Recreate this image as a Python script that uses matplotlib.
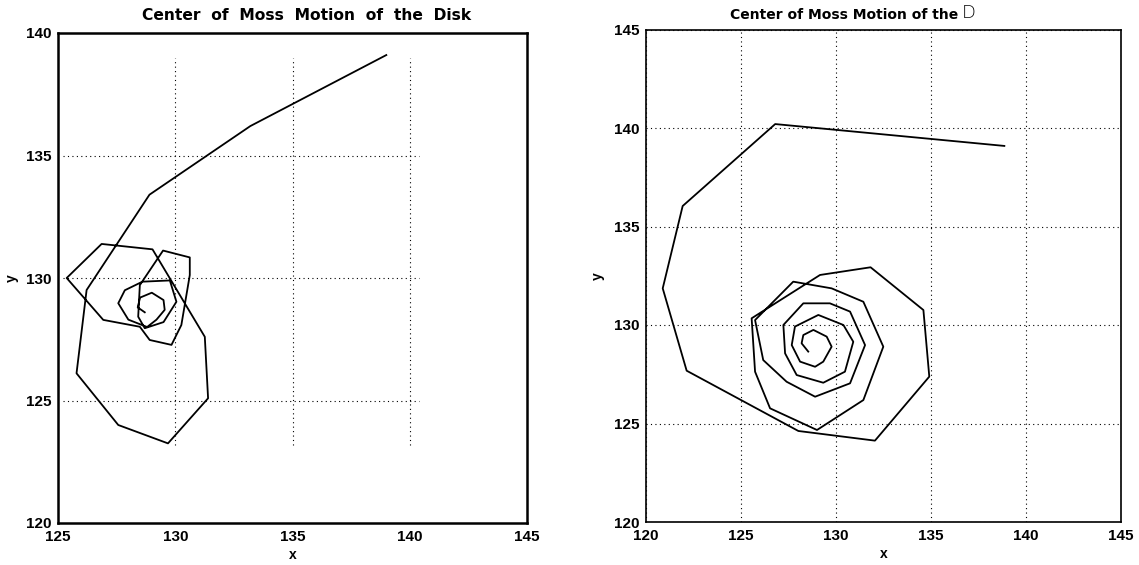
import matplotlib
matplotlib.use("Agg")
import matplotlib.pyplot as plt

# ---- data ----
left_x = [139.0, 133.2, 128.9, 126.22, 125.79, 127.57, 129.69, 131.4, 131.26, 129.03,
          126.86, 125.37, 126.93, 128.49, 128.91, 129.84, 130.26, 130.62, 130.62, 129.48,
          128.49, 128.42, 128.7, 129.5, 130.05, 129.77, 128.6, 127.85, 127.57, 128.0,
          128.8, 129.2, 129.55, 129.5, 129.0, 128.5, 128.4, 128.7]
left_y = [139.1, 136.2, 133.4, 129.51, 126.11, 124.0, 123.25, 125.09, 127.6, 131.17,
          131.39, 130.0, 128.29, 128.01, 127.47, 127.27, 128.08, 130.12, 130.84, 131.12,
          129.71, 128.42, 127.95, 128.2, 129.03, 129.9, 129.85, 129.5, 128.97, 128.3,
          128.0, 128.3, 128.7, 129.1, 129.4, 129.2, 128.8, 128.6]

right_x = [138.86, 126.8, 121.93, 120.88, 122.14, 128.02, 132.05, 134.91, 134.6, 131.82,
           129.16, 125.56, 125.74, 126.53, 129.0, 131.44, 132.49, 131.44, 129.77, 127.75,
           125.74, 126.17, 127.4, 128.9, 130.74, 131.53, 130.74, 129.68, 128.28, 127.23,
           127.32, 127.93, 129.33, 130.47, 130.91, 130.39, 129.07, 127.84, 127.67, 128.11,
           128.9, 129.33, 129.77, 129.51, 128.81, 128.28, 128.19, 128.54]
right_y = [139.09, 140.2, 136.04, 131.86, 127.68, 124.62, 124.13, 127.38, 130.76, 132.93,
           132.54, 130.34, 127.63, 125.77, 124.67, 126.19, 128.9, 131.18, 131.86, 132.2,
           130.25, 128.22, 127.12, 126.36, 127.04, 128.98, 130.68, 131.1, 131.1, 130.0,
           128.56, 127.46, 127.07, 127.63, 129.15, 130.0, 130.51, 129.92, 128.98, 128.14,
           127.88, 128.14, 128.9, 129.41, 129.75, 129.49, 129.07, 128.65]

left_xticks = [125, 130, 135, 140, 145]
left_yticks = [120, 125, 130, 135, 140]
right_xticks = [120, 125, 130, 135, 140, 145]
right_yticks = [120, 125, 130, 135, 140, 145]

title_left = "Center  of  Moss  Motion  of  the  Disk"
title_right = "Center of Moss Motion of the"

FONT = "Liberation Sans"
TFONT = "DejaVu Sans"

fig = plt.figure(figsize=(11.39, 5.65), dpi=100)
axL = fig.add_axes([58/1139, 1-523/565, (527-58)/1139, (523-33)/565])
axR = fig.add_axes([646/1139, 1-522/565, (1121-646)/1139, (522-29.5)/565])

def style(ax, xt, yt, lw):
    ax.set_xticks(xt)
    ax.set_yticks(yt)
    ax.set_xlim(xt[0], xt[-1])
    ax.set_ylim(yt[0], yt[-1])
    ax.tick_params(length=0, pad=5, labelsize=11)
    for lab in ax.get_xticklabels() + ax.get_yticklabels():
        lab.set_fontfamily(FONT)
        lab.set_fontweight("bold")
    for s in ax.spines.values():
        s.set_linewidth(lw)
        s.set_color("black")

# left panel
style(axL, left_xticks, left_yticks, 1.8)
for gx in left_xticks[1:-1]:
    axL.vlines(gx, 123.2, 139.0, colors="black", linestyles=(0, (1, 3)), linewidth=0.8)
for gy in left_yticks[1:-1]:
    axL.hlines(gy, 125.2, 140.4, colors="black", linestyles=(0, (1, 3)), linewidth=0.8)
axL.plot(left_x, left_y, color="black", linewidth=1.3)
axL.set_xlabel("x", fontfamily=FONT, fontweight="bold", fontsize=10, labelpad=3)
axL.set_ylabel("y", fontfamily=FONT, fontweight="bold", fontsize=10, labelpad=5)
fig.text(307/1139, 1-15/565, title_left, ha="center", va="center",
         fontfamily=TFONT, fontweight="bold", fontsize=11.2)

# right panel
style(axR, right_xticks, right_yticks, 1.2)
axR.grid(True, color="black", linestyle=(0, (1, 3)), linewidth=0.8)
axR.plot(right_x, right_y, color="black", linewidth=1.3)
axR.set_xlabel("x", fontfamily=FONT, fontweight="bold", fontsize=10, labelpad=3)
axR.set_ylabel("y", fontfamily=FONT, fontweight="bold", fontsize=10, labelpad=6)
fig.text(958/1139, 1-15/565, title_right, ha="right", va="center",
         fontfamily=TFONT, fontweight="bold", fontsize=10)
fig.text(962/1139, 1-13/565, "D", ha="left", va="center",
         fontfamily="DejaVu Sans", fontweight="light", fontsize=13)

fig.savefig("out.png", dpi=100)
